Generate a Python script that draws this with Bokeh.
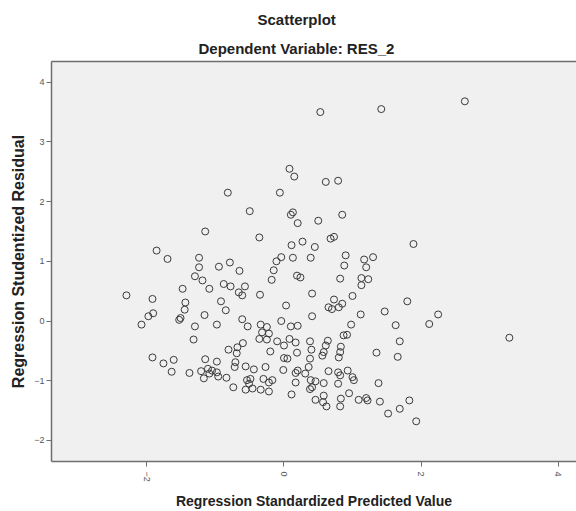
import math
from bokeh.plotting import figure
from bokeh.models import Range1d, FixedTicker, LinearAxis, Title
from bokeh.embed import file_html
from bokeh.resources import INLINE

title_main = "Scatterplot"
title_sub = "Dependent Variable: RES_2"
x_label = "Regression Standardized Predicted Value"
y_label = "Regression Studentized Residual"

x_ticks = [-2, 0, 2, 4]
y_ticks = [-2, -1, 0, 1, 2, 3, 4]

# Regression Standardized Predicted Value
predicted = [
    0.53, 1.42, 2.64, 0.08, 0.15, -0.82, -0.06, -0.50, 0.13, 0.10,
    0.20, -1.15, -0.36, 0.11, -1.86, -1.70, -1.24, -0.04, 0.13, -0.11,
    -1.24, -0.95, -0.79, -0.15, -0.65, -1.30, -1.19, -0.18, 0.19, -0.88,
    -0.78, -0.57, -1.09, -1.48, -0.66, -0.61, -0.35, -2.30, -1.92, -0.92,
    -1.44, -0.85, 0.03, -1.45, -1.91, -1.98, -1.16, -1.51, -1.53, -2.08,
    -1.30, -0.98, -0.61, -0.53, -0.34, -0.25, -0.04, 0.10, 0.20, 0.61,
    0.79, 0.85, 0.50, 0.68, 0.73, 1.89, 0.27, 0.45, 0.39, 0.90,
    0.88, 1.17, 1.30, 1.20, 0.24, 0.82, 1.13, 1.23, 1.13, 0.41,
    1.00, 0.73, 0.65, 0.70, 0.85, 0.80, 1.80, 1.12, 1.47, 2.25,
    0.41, 0.98, 1.63, 2.12, -1.32, -0.32, -0.22, -0.36, -0.25, -0.10,
    0.00, 0.08, 0.17, -0.60, -0.81, -0.68, -0.69, -0.20, -1.92, -1.76,
    -1.61, -1.64, -1.38, -1.15, -0.98, -0.71, -0.72, -1.21, -1.11, -1.05,
    -0.98, -1.09, -0.96, -0.84, -1.17, -0.56, -0.44, -0.27, 0.00, 0.05,
    -0.01, 0.19, 0.17, 0.20, -0.54, -0.49, -0.51, -0.30, -0.17, -0.22,
    0.17, -0.74, -0.56, -0.46, -0.34, -0.22, 0.11, 0.87, 0.92, 0.38,
    0.40, 0.38, 0.36, 0.64, 0.61, 0.58, 0.56, 0.83, 0.82, 0.80,
    1.69, 1.35, 1.66, 0.65, 0.79, 0.82, 0.93, 1.00, 1.02, 0.31,
    0.39, 0.46, 0.58, 0.41, 0.38, 0.79, 1.38, 0.58, 0.46, 0.57,
    0.62, 0.83, 0.95, 0.82, 1.09, 1.20, 1.22, 1.40, 1.83, 1.69,
    1.52, 1.93, 3.29,
]

# Regression Studentized Residual
residual = [
    3.50, 3.55, 3.68, 2.55, 2.42, 2.15, 2.15, 1.84, 1.82, 1.78,
    1.64, 1.50, 1.40, 1.27, 1.18, 1.04, 1.06, 1.07, 1.06, 1.00,
    0.90, 0.91, 0.98, 0.85, 0.84, 0.75, 0.68, 0.69, 0.76, 0.62,
    0.58, 0.58, 0.54, 0.54, 0.48, 0.43, 0.44, 0.43, 0.37, 0.33,
    0.31, 0.18, 0.26, 0.19, 0.13, 0.08, 0.10, 0.05, 0.02, -0.06,
    -0.09, -0.06, 0.03, -0.09, -0.06, -0.10, 0.00, -0.09, -0.08, 2.33,
    2.35, 1.78, 1.68, 1.38, 1.41, 1.29, 1.33, 1.24, 1.06, 1.10,
    0.93, 1.03, 1.07, 0.90, 0.73, 0.71, 0.72, 0.70, 0.60, 0.46,
    0.42, 0.36, 0.23, 0.20, 0.29, 0.23, 0.33, 0.11, 0.16, 0.11,
    0.08, -0.06, -0.07, -0.05, -0.31, -0.19, -0.21, -0.30, -0.31, -0.34,
    -0.41, -0.30, -0.36, -0.37, -0.48, -0.44, -0.54, -0.51, -0.61, -0.71,
    -0.65, -0.85, -0.87, -0.64, -0.68, -0.69, -0.77, -0.84, -0.80, -0.83,
    -0.86, -0.88, -0.93, -0.95, -0.96, -0.76, -0.81, -0.77, -0.62, -0.63,
    -0.82, -0.53, -0.87, -0.83, -0.99, -0.97, -1.05, -0.97, -0.99, -1.03,
    -1.03, -1.11, -1.15, -1.13, -1.15, -1.18, -1.23, -0.24, -0.23, -0.34,
    -0.48, -0.63, -0.77, -0.33, -0.41, -0.52, -0.58, -0.43, -0.52, -0.61,
    -0.34, -0.53, -0.60, -0.84, -0.86, -0.91, -0.83, -0.94, -0.99, -0.88,
    -0.99, -1.01, -1.04, -1.11, -1.14, -1.05, -1.04, -1.25, -1.32, -1.36,
    -1.43, -1.30, -1.21, -1.43, -1.32, -1.29, -1.33, -1.35, -1.33, -1.47,
    -1.55, -1.68, -0.28,
]

FONT = "Liberation Sans"
AX_COL = "#6e6e6e"
TXT_COL = "#222222"

p = figure(width=576, height=511, output_backend="svg", toolbar_location=None,
           x_range=Range1d(-3.394, 4.270), y_range=Range1d(-2.353, 4.347),
           min_border_left=51, min_border_right=0, min_border_top=61, min_border_bottom=50)

p.title.text = ""
p.background_fill_color = "#f0f0f0"
p.border_fill_color = "white"
p.outline_line_color = None
p.xgrid.visible = False
p.ygrid.visible = False

p.scatter(predicted, residual, marker="circle", size=7, fill_color=None,
          line_color="#3a3a3a", line_width=1)

for ax in (p.xaxis[0], p.yaxis[0]):
    ax.axis_line_color = AX_COL
    ax.axis_line_width = 1.5
    ax.major_tick_line_color = AX_COL
    ax.major_tick_out = 5
    ax.major_tick_in = 0
    ax.minor_tick_line_color = None
    ax.major_label_text_font = FONT
    ax.major_label_text_font_size = "9px"
    ax.major_label_text_color = "#555555"
    ax.major_label_standoff = 2
    ax.axis_label_text_font = FONT
    ax.axis_label_text_font_style = "bold"
    ax.axis_label_text_color = TXT_COL

p.xaxis.ticker = FixedTicker(ticks=x_ticks)
p.yaxis.ticker = FixedTicker(ticks=y_ticks)
p.xaxis.major_label_orientation = -math.pi / 2
p.xaxis.major_label_standoff = 5

p.yaxis.axis_label = y_label
p.yaxis.axis_label_text_font_size = "16px"
p.yaxis.axis_label_standoff = 4

p.xaxis.axis_label = x_label
p.xaxis.axis_label_text_font_size = "14px"
p.xaxis.axis_label_standoff = 8

top_axis = LinearAxis(ticker=FixedTicker(ticks=[]), axis_line_color=AX_COL,
                      axis_line_width=1.5, major_tick_line_color=None,
                      minor_tick_line_color=None, major_label_text_font_size="0px")
p.add_layout(top_axis, "above")

p.add_layout(Title(text=title_sub, align="left", offset=147, text_font=FONT,
                   text_font_style="bold", text_font_size="15px",
                   text_color=TXT_COL, standoff=9), "above")
p.add_layout(Title(text=title_main, align="left", offset=206, text_font=FONT,
                   text_font_style="bold", text_font_size="15px",
                   text_color=TXT_COL, standoff=11), "above")

open("out.html", "w").write(file_html(p, INLINE))
